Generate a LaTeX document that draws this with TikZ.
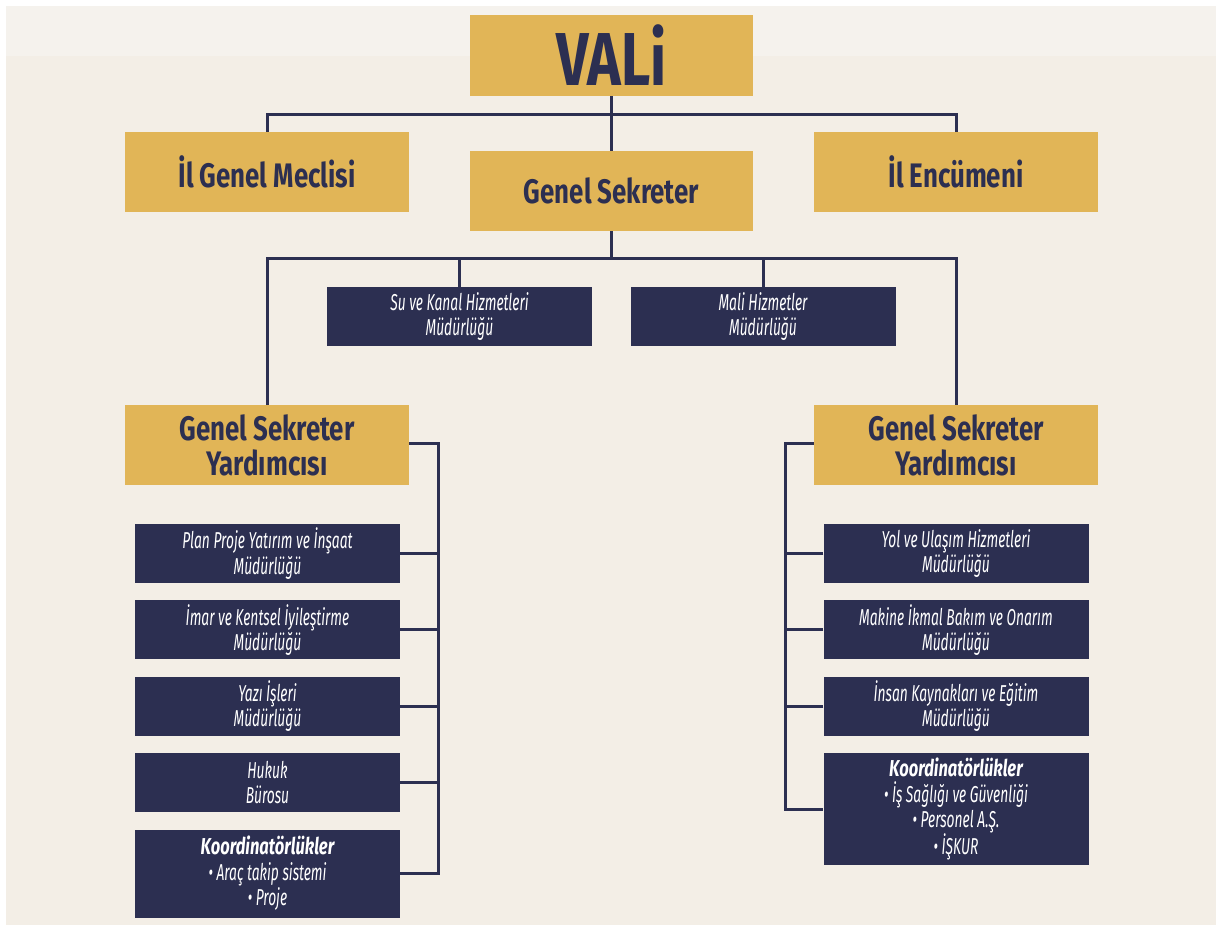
\documentclass[tikz,border=0pt]{standalone}
\usepackage{fontspec}
\setmainfont{Fira Sans}[FakeStretch=0.76]
\newfontfamily\deptfont{Fira Sans}[FakeStretch=0.6]
\newfontfamily\deptheadfont{Fira Sans}[FakeStretch=0.72]
\usetikzlibrary{positioning}
\definecolor{gold}{HTML}{E1B557}
\definecolor{navy}{HTML}{2C2F51}
\definecolor{paper}{HTML}{F3EEE6}
\definecolor{paperlight}{HTML}{F5F2ED}

\begin{document}
\begin{tikzpicture}[x=1pt, y=-1pt,
					node distance=17pt,
					goldbox/.style={fill=gold, text=navy, inner sep=0pt, align=center,
						minimum width=284pt, minimum height=80pt,
						font=\bfseries\fontsize{34}{35}\selectfont},
					deptbox/.style={fill=navy, text=white, inner sep=0pt, align=center,
						minimum width=265pt, minimum height=59pt,
						font=\deptfont\itshape\fontsize{23}{25.5}\selectfont},
					link/.style={draw=navy, line width=3pt}]

\useasboundingbox (0,0) rectangle (1220,925);
\fill[white] (0,0) rectangle (1220,925);
\fill[paper] (6,6) rectangle (1216,925);
\fill[paperlight] (6,6) rectangle (1216,56);

\node[goldbox, minimum width=283pt, minimum height=81pt,
	font=\bfseries\fontsize{75}{75}\selectfont] (vali) at (611.5,55.5) {VALi};
\node[goldbox] (meclis)  at (267,172)   {İl Genel Meclisi};
\node[goldbox, minimum width=283pt] (gensek) at (611.5,191) {Genel Sekreter};
\node[goldbox] (encumen) at (956,172)   {İl Encümeni};

\node[deptbox] (su)   at (459.5,316.5) {Su ve Kanal Hizmetleri\\Müdürlüğü};
\node[deptbox] (mali) at (763,316.5)   {Mali Hizmetler\\Müdürlüğü};

\node[goldbox] (gsyl) at (267,445) {Genel Sekreter\\Yardımcısı};
\node[goldbox] (gsyr) at (956,445) {Genel Sekreter\\Yardımcısı};

\node[deptbox] (plan)  at (267.5,553.5)    {Plan Proje Yatırım ve İnşaat\\Müdürlüğü};
\node[deptbox, below=of plan]  (imar)  {İmar ve Kentsel İyileştirme\\Müdürlüğü};
\node[deptbox, below=of imar]  (yazi)  {Yazı İşleri\\Müdürlüğü};
\node[deptbox, below=of yazi]  (hukuk) {Hukuk\\Bürosu};
\node[deptbox, below=of hukuk, minimum height=88pt] (koordl)
	{{\deptheadfont\bfseries\itshape Koordinatörlükler}\\• Araç takip sistemi\\• Proje};

\node[deptbox] (yol)   at (956,553.5) {Yol ve Ulaşım Hizmetleri\\Müdürlüğü};
\node[deptbox, below=of yol]    (makine) {Makine İkmal Bakım ve Onarım\\Müdürlüğü};
\node[deptbox, below=of makine] (insan)  {İnsan Kaynakları ve Eğitim\\Müdürlüğü};
\node[deptbox, below=of insan, minimum height=112pt] (koordr)
	{{\deptheadfont\bfseries\itshape Koordinatörlükler}\\• İş Sağlığı ve Güvenliği\\• Personel A.Ş.\\• İŞKUR};

\coordinate (top)  at (611.5,115);
\coordinate (mid)  at (611.5,259);
\coordinate (lbus) at (438,443);
\coordinate (rbus) at (785,443);

\draw[link] (vali) -- (gensek);
\draw[link] (meclis.north) |- (top) -| (encumen.north);
\draw[link] (gensek) -- (mid);
\draw[link] (gsyl.north) |- (mid) -| (gsyr.north);
\draw[link] (su.north) -- (su.north |- mid);
\draw[link] (mali.north) -- (mali.north |- mid);

\draw[link] (gsyl.east |- lbus) -- (lbus) |- (koordl.east);
\foreach \b in {plan, imar, yazi, hukuk}
	\draw[link] (\b.east) -- (\b.east -| lbus);
\draw[link] (gsyr.west |- rbus) -- (rbus) |- (koordr.west);
\foreach \b in {yol, makine, insan}
	\draw[link] (\b.west) -- (\b.west -| rbus);
\end{tikzpicture}
\end{document}
